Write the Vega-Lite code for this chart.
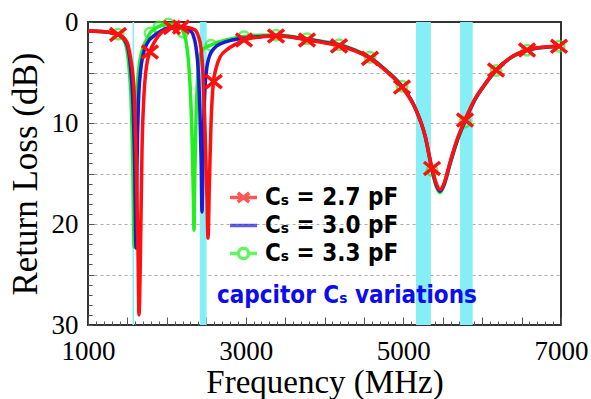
{
  "$schema": "https://vega.github.io/schema/vega-lite/v6.json",
  "width": 473,
  "height": 303,
  "autosize": {"type": "none"},
  "padding": {"left": 88, "top": 22, "right": 30, "bottom": 74},
  "background": "white",
  "config": {
    "view": {"stroke": "#333333", "strokeWidth": 2},
    "axis": {"labelFont": "Liberation Serif, Times New Roman, DejaVu Serif, serif", "titleFont": "Liberation Serif, Times New Roman, DejaVu Serif, serif", "labelColor": "black", "titleColor": "black", "titleFontWeight": "normal", "domain": false, "tickColor": "#555555"}
  },
  "datasets": {
    "bands": [
      {"f1": 1565, "f2": 1585},
      {"f1": 2418, "f2": 2505},
      {"f1": 5160, "f2": 5350},
      {"f1": 5720, "f2": 5880}
    ],
    "curves": [
      {"s": "3.3", "f": 1000, "db": 0.89}, {"s": "3.3", "f": 1152, "db": 0.94}, {"s": "3.3", "f": 1279, "db": 1.04}, {"s": "3.3", "f": 1381, "db": 1.2},
      {"s": "3.3", "f": 1440, "db": 1.6}, {"s": "3.3", "f": 1490, "db": 2.6}, {"s": "3.3", "f": 1520, "db": 4.5}, {"s": "3.3", "f": 1548, "db": 8},
      {"s": "3.3", "f": 1568, "db": 14}, {"s": "3.3", "f": 1584, "db": 22.3}, {"s": "3.3", "f": 1597, "db": 14}, {"s": "3.3", "f": 1615, "db": 8},
      {"s": "3.3", "f": 1640, "db": 5}, {"s": "3.3", "f": 1680, "db": 3}, {"s": "3.3", "f": 1740, "db": 1.8}, {"s": "3.3", "f": 1787, "db": 1.1},
      {"s": "3.3", "f": 1860, "db": 0.6}, {"s": "3.3", "f": 1950, "db": 0.3}, {"s": "3.3", "f": 2020, "db": 0.2}, {"s": "3.3", "f": 2100, "db": 0.25},
      {"s": "3.3", "f": 2160, "db": 0.45}, {"s": "3.3", "f": 2205, "db": 0.9}, {"s": "3.3", "f": 2240, "db": 1.8}, {"s": "3.3", "f": 2270, "db": 3.5},
      {"s": "3.3", "f": 2300, "db": 7}, {"s": "3.3", "f": 2322, "db": 12}, {"s": "3.3", "f": 2336, "db": 17}, {"s": "3.3", "f": 2345, "db": 20.6},
      {"s": "3.3", "f": 2355, "db": 15}, {"s": "3.3", "f": 2372, "db": 9}, {"s": "3.3", "f": 2395, "db": 5}, {"s": "3.3", "f": 2420, "db": 3.3},
      {"s": "3.3", "f": 2470, "db": 2.6}, {"s": "3.3", "f": 2560, "db": 2.3}, {"s": "3.3", "f": 2650, "db": 2.0}, {"s": "3.3", "f": 2760, "db": 1.75},
      {"s": "3.3", "f": 2880, "db": 1.55}, {"s": "3.3", "f": 2979, "db": 1.45}, {"s": "3.3", "f": 3182, "db": 1.3}, {"s": "3.3", "f": 3385, "db": 1.3},
      {"s": "3.3", "f": 3562, "db": 1.4}, {"s": "3.3", "f": 3778, "db": 1.65}, {"s": "3.3", "f": 4006, "db": 1.95}, {"s": "3.3", "f": 4197, "db": 2.25},
      {"s": "3.3", "f": 4387, "db": 2.75}, {"s": "3.3", "f": 4590, "db": 3.55}, {"s": "3.3", "f": 4780, "db": 4.75}, {"s": "3.3", "f": 4983, "db": 6.35},
      {"s": "3.3", "f": 5161, "db": 8.7}, {"s": "3.3", "f": 5275, "db": 11.3}, {"s": "3.3", "f": 5364, "db": 14.7}, {"s": "3.3", "f": 5414, "db": 16.2},
      {"s": "3.3", "f": 5465, "db": 16.9}, {"s": "3.3", "f": 5516, "db": 16.2}, {"s": "3.3", "f": 5592, "db": 14.1}, {"s": "3.3", "f": 5693, "db": 11.6},
      {"s": "3.3", "f": 5782, "db": 9.9}, {"s": "3.3", "f": 5909, "db": 7.7}, {"s": "3.3", "f": 6036, "db": 6.2}, {"s": "3.3", "f": 6176, "db": 4.8},
      {"s": "3.3", "f": 6353, "db": 3.6}, {"s": "3.3", "f": 6569, "db": 2.8}, {"s": "3.3", "f": 6797, "db": 2.5}, {"s": "3.3", "f": 7000, "db": 2.4},

      {"s": "3.0", "f": 1000, "db": 0.89}, {"s": "3.0", "f": 1152, "db": 0.94}, {"s": "3.0", "f": 1279, "db": 1.04}, {"s": "3.0", "f": 1381, "db": 1.24},
      {"s": "3.0", "f": 1457, "db": 1.7}, {"s": "3.0", "f": 1507, "db": 2.6}, {"s": "3.0", "f": 1540, "db": 4.5}, {"s": "3.0", "f": 1570, "db": 8},
      {"s": "3.0", "f": 1592, "db": 14}, {"s": "3.0", "f": 1609, "db": 22.4}, {"s": "3.0", "f": 1622, "db": 14}, {"s": "3.0", "f": 1640, "db": 8},
      {"s": "3.0", "f": 1665, "db": 5}, {"s": "3.0", "f": 1700, "db": 3.2}, {"s": "3.0", "f": 1760, "db": 2.0}, {"s": "3.0", "f": 1830, "db": 1.4},
      {"s": "3.0", "f": 1913, "db": 0.95}, {"s": "3.0", "f": 2002, "db": 0.6}, {"s": "3.0", "f": 2104, "db": 0.45}, {"s": "3.0", "f": 2205, "db": 0.5},
      {"s": "3.0", "f": 2280, "db": 0.7}, {"s": "3.0", "f": 2330, "db": 1.2}, {"s": "3.0", "f": 2370, "db": 2.5}, {"s": "3.0", "f": 2400, "db": 5},
      {"s": "3.0", "f": 2420, "db": 9}, {"s": "3.0", "f": 2436, "db": 14}, {"s": "3.0", "f": 2446, "db": 18.8}, {"s": "3.0", "f": 2458, "db": 13},
      {"s": "3.0", "f": 2475, "db": 8}, {"s": "3.0", "f": 2500, "db": 5}, {"s": "3.0", "f": 2540, "db": 3.4}, {"s": "3.0", "f": 2600, "db": 2.6},
      {"s": "3.0", "f": 2700, "db": 2.1}, {"s": "3.0", "f": 2800, "db": 1.85}, {"s": "3.0", "f": 2979, "db": 1.6}, {"s": "3.0", "f": 3182, "db": 1.45},
      {"s": "3.0", "f": 3385, "db": 1.35}, {"s": "3.0", "f": 3562, "db": 1.45}, {"s": "3.0", "f": 3778, "db": 1.72}, {"s": "3.0", "f": 4006, "db": 2.02},
      {"s": "3.0", "f": 4197, "db": 2.32}, {"s": "3.0", "f": 4387, "db": 2.82}, {"s": "3.0", "f": 4590, "db": 3.6}, {"s": "3.0", "f": 4780, "db": 4.8},
      {"s": "3.0", "f": 4983, "db": 6.4}, {"s": "3.0", "f": 5161, "db": 8.7}, {"s": "3.0", "f": 5275, "db": 11.25}, {"s": "3.0", "f": 5364, "db": 14.6},
      {"s": "3.0", "f": 5414, "db": 16.05}, {"s": "3.0", "f": 5465, "db": 16.75}, {"s": "3.0", "f": 5516, "db": 16.1}, {"s": "3.0", "f": 5592, "db": 14.0},
      {"s": "3.0", "f": 5693, "db": 11.5}, {"s": "3.0", "f": 5782, "db": 9.8}, {"s": "3.0", "f": 5909, "db": 7.66}, {"s": "3.0", "f": 6036, "db": 6.17},
      {"s": "3.0", "f": 6176, "db": 4.78}, {"s": "3.0", "f": 6353, "db": 3.58}, {"s": "3.0", "f": 6569, "db": 2.78}, {"s": "3.0", "f": 6797, "db": 2.49},
      {"s": "3.0", "f": 7000, "db": 2.39},

      {"s": "2.7", "f": 1000, "db": 0.89}, {"s": "2.7", "f": 1152, "db": 0.94}, {"s": "2.7", "f": 1279, "db": 1.04}, {"s": "2.7", "f": 1381, "db": 1.24},
      {"s": "2.7", "f": 1457, "db": 1.58}, {"s": "2.7", "f": 1507, "db": 2.28}, {"s": "2.7", "f": 1545, "db": 3.76}, {"s": "2.7", "f": 1584, "db": 6.73},
      {"s": "2.7", "f": 1609, "db": 12.7}, {"s": "2.7", "f": 1634, "db": 22.6}, {"s": "2.7", "f": 1647, "db": 29.0}, {"s": "2.7", "f": 1666, "db": 22.6},
      {"s": "2.7", "f": 1685, "db": 12.7}, {"s": "2.7", "f": 1710, "db": 7.2}, {"s": "2.7", "f": 1736, "db": 4.75}, {"s": "2.7", "f": 1786, "db": 2.97},
      {"s": "2.7", "f": 1850, "db": 1.88}, {"s": "2.7", "f": 1913, "db": 1.19}, {"s": "2.7", "f": 2002, "db": 0.69}, {"s": "2.7", "f": 2104, "db": 0.5},
      {"s": "2.7", "f": 2205, "db": 0.5}, {"s": "2.7", "f": 2294, "db": 0.59}, {"s": "2.7", "f": 2357, "db": 0.79}, {"s": "2.7", "f": 2395, "db": 1.29},
      {"s": "2.7", "f": 2433, "db": 2.57}, {"s": "2.7", "f": 2459, "db": 5.25}, {"s": "2.7", "f": 2484, "db": 10.7}, {"s": "2.7", "f": 2510, "db": 17.6},
      {"s": "2.7", "f": 2522, "db": 21.4}, {"s": "2.7", "f": 2541, "db": 15.6}, {"s": "2.7", "f": 2560, "db": 10.2}, {"s": "2.7", "f": 2590, "db": 6.0},
      {"s": "2.7", "f": 2624, "db": 4.6}, {"s": "2.7", "f": 2674, "db": 3.5}, {"s": "2.7", "f": 2776, "db": 2.67}, {"s": "2.7", "f": 2877, "db": 2.18},
      {"s": "2.7", "f": 2979, "db": 1.78}, {"s": "2.7", "f": 3182, "db": 1.49}, {"s": "2.7", "f": 3385, "db": 1.39}, {"s": "2.7", "f": 3562, "db": 1.49},
      {"s": "2.7", "f": 3778, "db": 1.78}, {"s": "2.7", "f": 4006, "db": 2.08}, {"s": "2.7", "f": 4197, "db": 2.38}, {"s": "2.7", "f": 4387, "db": 2.87},
      {"s": "2.7", "f": 4590, "db": 3.66}, {"s": "2.7", "f": 4780, "db": 4.85}, {"s": "2.7", "f": 4983, "db": 6.44}, {"s": "2.7", "f": 5161, "db": 8.71},
      {"s": "2.7", "f": 5275, "db": 11.2}, {"s": "2.7", "f": 5364, "db": 14.5}, {"s": "2.7", "f": 5414, "db": 15.9}, {"s": "2.7", "f": 5465, "db": 16.6},
      {"s": "2.7", "f": 5516, "db": 16.0}, {"s": "2.7", "f": 5592, "db": 13.9}, {"s": "2.7", "f": 5693, "db": 11.4}, {"s": "2.7", "f": 5782, "db": 9.7},
      {"s": "2.7", "f": 5909, "db": 7.62}, {"s": "2.7", "f": 6036, "db": 6.14}, {"s": "2.7", "f": 6176, "db": 4.75}, {"s": "2.7", "f": 6353, "db": 3.56},
      {"s": "2.7", "f": 6569, "db": 2.77}, {"s": "2.7", "f": 6797, "db": 2.48}, {"s": "2.7", "f": 7000, "db": 2.38}
    ],
    "greenmarks": [
      {"f": 1381, "db": 1.2}, {"f": 1787, "db": 1.1}, {"f": 1900, "db": 0.5}, {"f": 2020, "db": 0.2}, {"f": 2205, "db": 1.0},
      {"f": 2560, "db": 2.3}, {"f": 2979, "db": 1.45}, {"f": 3385, "db": 1.3}, {"f": 3778, "db": 1.65}, {"f": 4184, "db": 2.25},
      {"f": 4577, "db": 3.5}, {"f": 4983, "db": 6.35}, {"f": 5364, "db": 14.7}, {"f": 5782, "db": 9.9}, {"f": 6176, "db": 4.8},
      {"f": 6569, "db": 2.8}, {"f": 6975, "db": 2.4}
    ],
    "redmarks": [
      {"f": 1381, "db": 1.24}, {"f": 1786, "db": 2.97}, {"f": 2065, "db": 0.55}, {"f": 2180, "db": 0.5}, {"f": 2595, "db": 5.9},
      {"f": 2979, "db": 1.78}, {"f": 3385, "db": 1.39}, {"f": 3778, "db": 1.78}, {"f": 4184, "db": 2.36}, {"f": 4577, "db": 3.6},
      {"f": 4983, "db": 6.44}, {"f": 5364, "db": 14.5}, {"f": 5782, "db": 9.7}, {"f": 6176, "db": 4.75}, {"f": 6569, "db": 2.77},
      {"f": 6975, "db": 2.4}
    ],
    "series": [
      {"s": "2.7", "f": 1000, "db": 0}, {"s": "3.0", "f": 1000, "db": 0}, {"s": "3.3", "f": 1000, "db": 0}
    ],
    "note": [
      {"f": 4285, "db": 27.1, "t": "capcitor Cₛ variations"}
    ]
  },
  "resolve": {"axis": {"x": "independent", "y": "independent"}},
  "layer": [
    {
      "data": {"name": "bands"},
      "mark": {"type": "rect", "color": "#86eef6"},
      "encoding": {
        "x": {"field": "f1", "type": "quantitative", "scale": {"domain": [1000, 7000], "nice": false, "zero": false},
              "axis": {"orient": "bottom", "tickCount": 12, "labels": false, "tickSize": -8, "grid": false, "title": null}},
        "x2": {"field": "f2"}
      }
    },
    {
      "data": {"name": "series"},
      "transform": [{"filter": "false"}],
      "mark": {"type": "point", "filled": false, "strokeWidth": 3},
      "encoding": {
        "x": {"field": "f", "type": "quantitative", "scale": {"domain": [1000, 7000], "nice": false, "zero": false},
              "axis": {"orient": "bottom", "tickCount": 60, "labels": false, "tickSize": -4, "grid": false, "title": null}},
        "y": {"field": "db", "type": "quantitative", "scale": {"domain": [0, 30], "reverse": true, "nice": false, "zero": false},
              "axis": {"orient": "left", "tickCount": 30, "labels": false, "tickSize": -4, "grid": false, "title": null}},
        "color": {"field": "s", "type": "nominal",
                  "scale": {"domain": ["2.7", "3.0", "3.3"], "range": ["#ff1010", "#1a1ad6", "#22ee22"]},
                  "legend": {"orient": "none", "legendX": 140, "legendY": 160, "padding": 0, "title": null,
                             "symbolSize": 729, "symbolStrokeWidth": 3.5, "labelFont": "DejaVu Sans Condensed", "labelFontWeight": "bold",
                             "labelFontSize": 24, "labelColor": "black", "rowPadding": 0, "labelOffset": 6,
                             "labelExpr": "'Cₛ = ' + datum.label + ' pF'"}},
        "shape": {"field": "s", "type": "nominal",
                  "scale": {"domain": ["2.7", "3.0", "3.3"],
                            "range": ["M-1,0H1M-0.42,-0.34L0.42,0.34M-0.42,0.34L0.42,-0.34", "M-1,0H1", "M-1,0H-0.38M0.38,0H1M0.38,0A0.38,0.38 0 1,1 -0.38,0A0.38,0.38 0 1,1 0.38,0"]},
                  "legend": {"orient": "none", "legendX": 140, "legendY": 160, "padding": 0, "title": null,
                             "symbolSize": 729, "symbolStrokeWidth": 3.5, "labelFont": "DejaVu Sans Condensed", "labelFontWeight": "bold",
                             "labelFontSize": 24, "labelColor": "black", "rowPadding": 0, "labelOffset": 6,
                             "labelExpr": "'Cₛ = ' + datum.label + ' pF'"}}
      }
    },
    {
      "data": {"name": "curves"},
      "transform": [{"filter": "datum.s == '3.3'"}],
      "mark": {"type": "line", "interpolate": "monotone", "strokeWidth": 3.5},
      "encoding": {
        "x": {"field": "f", "type": "quantitative", "scale": {"domain": [1000, 7000], "nice": false, "zero": false},
              "axis": {"orient": "bottom", "values": [1000, 3000, 5000, 7000], "format": "d", "ticks": false, "grid": false,
                       "labelFont": "Liberation Serif, Times New Roman, DejaVu Serif, serif", "labelFontSize": 27, "labelPadding": 13, "labelFlush": false, "labelOverlap": false,
                       "title": "Frequency (MHz)", "titleFont": "Liberation Serif, Times New Roman, DejaVu Serif, serif", "titleFontSize": 33, "titlePadding": 2}},
        "y": {"field": "db", "type": "quantitative", "scale": {"domain": [0, 30], "reverse": true, "nice": false, "zero": false},
              "axis": {"orient": "left", "values": [0, 10, 20, 30], "ticks": false, "grid": false,
                       "labelFont": "Liberation Serif, Times New Roman, DejaVu Serif, serif", "labelFontSize": 27, "labelPadding": 10, "labelFlush": false, "labelOverlap": false,
                       "title": "Return Loss (dB)", "titleFont": "Liberation Serif, Times New Roman, DejaVu Serif, serif", "titleFontSize": 35, "titlePadding": 8}},
        "color": {"field": "s", "type": "nominal", "legend": null}
      }
    },
    {
      "data": {"name": "greenmarks"},
      "mark": {"type": "point", "shape": "circle", "filled": false, "color": "#22ee22", "strokeWidth": 2.5, "size": 110},
      "encoding": {
        "x": {"field": "f", "type": "quantitative", "axis": null},
        "y": {"field": "db", "type": "quantitative",
              "axis": {"orient": "left", "values": [5, 10, 15, 20, 25], "labels": false, "tickSize": -6, "grid": true,
                       "gridDash": [3, 3], "gridColor": "#aaaaaa", "title": null}}
      }
    },
    {
      "data": {"name": "curves"},
      "transform": [{"filter": "datum.s == '3.0'"}],
      "mark": {"type": "line", "interpolate": "monotone", "strokeWidth": 3.5},
      "encoding": {
        "x": {"field": "f", "type": "quantitative", "axis": null},
        "y": {"field": "db", "type": "quantitative", "axis": null},
        "color": {"field": "s", "type": "nominal", "legend": null}
      }
    },
    {
      "data": {"name": "curves"},
      "transform": [{"filter": "datum.s == '2.7'"}],
      "mark": {"type": "line", "interpolate": "monotone", "strokeWidth": 3.5},
      "encoding": {
        "x": {"field": "f", "type": "quantitative", "axis": null},
        "y": {"field": "db", "type": "quantitative", "axis": null},
        "color": {"field": "s", "type": "nominal", "legend": null}
      }
    },
    {
      "data": {"name": "redmarks"},
      "mark": {"type": "point", "shape": "M-1,-0.8L1,0.8M-1,0.8L1,-0.8", "filled": false, "color": "#ff1010", "opacity": 1, "strokeWidth": 3.5, "size": 260},
      "encoding": {
        "x": {"field": "f", "type": "quantitative", "axis": null},
        "y": {"field": "db", "type": "quantitative", "axis": null}
      }
    },
    {
      "data": {"name": "note"},
      "mark": {"type": "text", "font": "DejaVu Sans Condensed", "fontWeight": "bold", "fontSize": 24, "color": "#0c0cee", "align": "center", "baseline": "middle"},
      "encoding": {
        "x": {"field": "f", "type": "quantitative", "axis": null},
        "y": {"field": "db", "type": "quantitative", "axis": null},
        "text": {"field": "t"}
      }
    }
  ]
}
